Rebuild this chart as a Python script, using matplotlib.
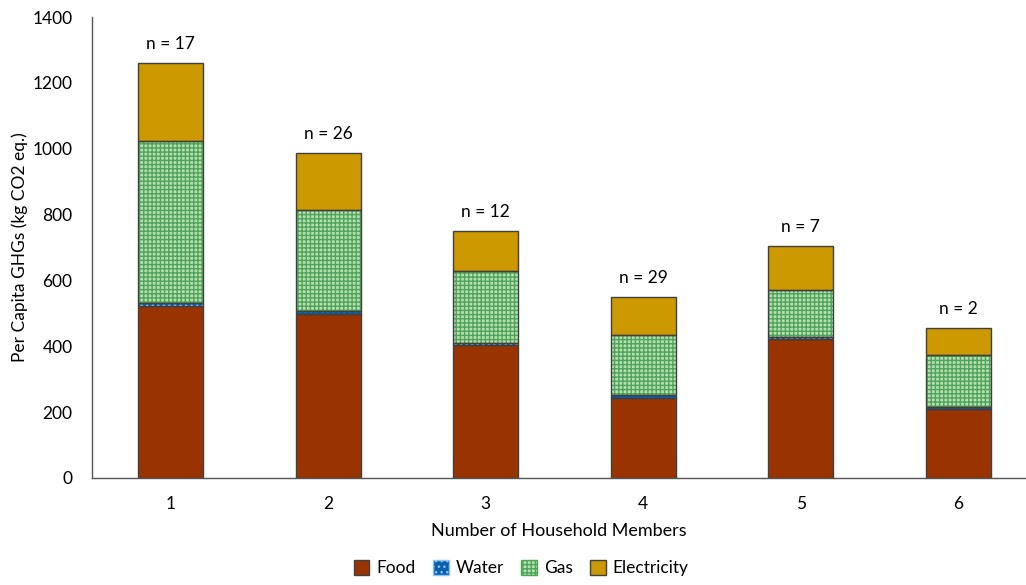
import numpy as np
import matplotlib.pyplot as plt
from matplotlib.patches import Patch

plt.rcParams['font.family'] = ['Lato', 'DejaVu Sans']
plt.rcParams['hatch.linewidth'] = 1.0

# Per capita emissions by household size (kg CO2 eq.)
members = ['1', '2', '3', '4', '5', '6']
food = [522, 498, 404, 243, 422, 210]
water = [10, 8, 6, 8, 5, 6]
gas = [491, 308, 219, 183, 144, 158]
electricity = [237, 173, 121, 116, 134, 81]
n_counts = [17, 26, 12, 29, 7, 2]

x = np.arange(len(members))
width = 0.41
edge = '#404040'

fig = plt.figure(figsize=(10.26, 5.85), dpi=100)
ax = fig.add_axes([92 / 1026, 1 - 478 / 585, 934 / 1026, (478 - 17) / 585])

food_a = np.array(food)
water_a = np.array(water)
gas_a = np.array(gas)
elec_a = np.array(electricity)

b1 = food_a
b2 = b1 + water_a
b3 = b2 + gas_a

# fills with pattern, then outlines on top
ax.bar(x, food_a, width, color='#993300', edgecolor=edge, linewidth=1, zorder=2)
ax.bar(x, water_a, width, bottom=b1, color='#0a5fb0', edgecolor='#8fc3ef',
       hatch='...', linewidth=0, zorder=2)
ax.bar(x, water_a, width, bottom=b1, fill=False, edgecolor=edge, linewidth=1, zorder=3)
ax.bar(x, gas_a, width, bottom=b2, color='#b9ddb0', edgecolor='#4da55a',
       hatch='++++', linewidth=0, zorder=2)
ax.bar(x, gas_a, width, bottom=b2, fill=False, edgecolor=edge, linewidth=1, zorder=3)
ax.bar(x, elec_a, width, bottom=b3, color='#cc9900', edgecolor=edge, linewidth=1, zorder=2)

totals = b3 + elec_a
for xi, t, n in zip(x, totals, n_counts):
    ax.annotate(f'n = {n}', (xi, t), xytext=(0, 8), textcoords='offset points',
                ha='center', va='bottom', fontsize=12.5, color='black')

ax.set_xlim(-0.5, 5.43)
ax.set_ylim(0, 1400)
ax.set_yticks(range(0, 1401, 200))
ax.set_xticks(x)
ax.set_xticklabels(members)
ax.tick_params(length=0, labelsize=12.5)
ax.tick_params(axis='x', pad=13)
ax.tick_params(axis='y', pad=14)
for s in ['top', 'right']:
    ax.spines[s].set_visible(False)
for s in ['left', 'bottom']:
    ax.spines[s].set_color('#555555')
    ax.spines[s].set_linewidth(1)

ax.set_xlabel('Number of Household Members', fontsize=13, labelpad=8)
ax.set_ylabel('Per Capita GHGs (kg CO2 eq.)', fontsize=12.5, labelpad=3)

handles = [
    Patch(facecolor='#993300', edgecolor=edge, label='Food'),
    Patch(facecolor='#0a5fb0', edgecolor='#8fc3ef', hatch='...', label='Water'),
    Patch(facecolor='#b9ddb0', edgecolor='#4da55a', hatch='++++', label='Gas'),
    Patch(facecolor='#cc9900', edgecolor=edge, label='Electricity'),
]
fig.legend(handles=handles, loc='lower center', bbox_to_anchor=(0.508, -0.012), ncol=4,
           frameon=False, fontsize=12.5, handlelength=0.9, handleheight=0.9,
           handletextpad=0.4, columnspacing=1.0)

fig.savefig('out.png', dpi=100)
